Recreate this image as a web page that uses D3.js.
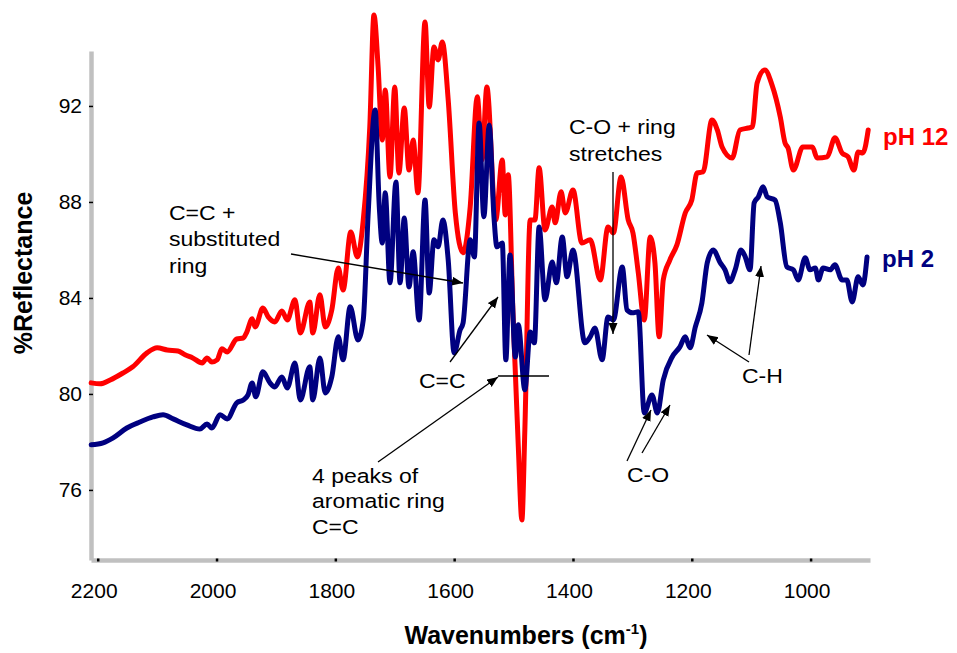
<!DOCTYPE html>
<html>
<head>
<meta charset="utf-8">
<script src="https://cdn.jsdelivr.net/npm/d3@7"></script>
<style>
  body { margin: 0; background: #fff; }
  text { font-family: "Liberation Sans", Arial, sans-serif; }
</style>
</head>
<body>
<script>
// pH 12 spectrum
var ph12Wave = [2211, 2196, 2179, 2157, 2141, 2117, 2100, 2083, 2065, 2053, 2040, 2024, 2016, 2008, 1999, 1991, 1982, 1966, 1955, 1949,
  1940, 1935, 1922, 1913, 1902, 1890, 1881, 1868, 1859, 1843, 1838, 1826, 1817, 1806, 1795, 1787, 1774, 1763, 1753, 1742,
  1735, 1728, 1721, 1716, 1708, 1700, 1693, 1684, 1676, 1669, 1661, 1649, 1642, 1634, 1627, 1620, 1610, 1598, 1585, 1573,
  1561, 1553, 1545, 1530, 1519, 1514, 1509, 1501, 1492, 1486, 1481, 1472, 1464, 1457, 1447, 1435, 1430, 1420, 1413, 1400,
  1385, 1371, 1354, 1341, 1332, 1319, 1307, 1299, 1290, 1280, 1270, 1262, 1255, 1248, 1237, 1225, 1211, 1200, 1191, 1181,
  1166, 1157, 1149, 1132, 1119, 1105, 1098, 1090, 1077, 1065, 1051, 1043, 1038, 1029, 1013, 997, 989, 972, 959, 947,
  937, 927, 920, 912, 903];
var ph12Refl = [80.46, 80.42, 80.58, 80.88, 81.13, 81.71, 81.92, 81.83, 81.79, 81.63, 81.50, 81.29, 81.50, 81.33, 81.42, 81.88, 81.75, 82.29, 82.33, 82.58,
  83.13, 82.79, 83.58, 83.21, 83.00, 83.46, 83.08, 83.92, 82.54, 83.83, 82.54, 84.13, 82.79, 83.50, 85.25, 84.33, 86.75, 85.71, 87.25, 91.13,
  95.79, 93.63, 90.58, 92.67, 89.04, 92.79, 89.21, 91.92, 89.33, 90.58, 88.38, 95.50, 91.96, 94.46, 93.92, 94.67, 92.25, 87.54, 85.88, 87.79,
  92.38, 89.75, 92.79, 87.25, 89.75, 87.46, 89.13, 83.38, 77.79, 74.75, 78.50, 87.25, 87.25, 89.42, 86.83, 87.79, 87.13, 88.42, 87.54, 88.50,
  86.29, 86.42, 84.75, 86.96, 86.71, 89.04, 87.25, 86.71, 85.04, 83.08, 86.54, 85.46, 82.38, 84.75, 85.58, 86.21, 87.54, 88.08, 89.21, 89.25,
  91.42, 91.00, 90.29, 89.83, 91.00, 91.08, 91.13, 92.96, 93.50, 92.88, 91.54, 90.46, 90.25, 89.33, 90.29, 90.29, 89.83, 89.88, 90.67, 90.04,
  89.88, 89.33, 90.08, 90.04, 91.00];

// pH 2 spectrum
var ph2Wave = [2211, 2191, 2174, 2151, 2129, 2107, 2090, 2073, 2050, 2028, 2016, 2008, 1994, 1982, 1966, 1955, 1947, 1940, 1934, 1922,
  1910, 1902, 1890, 1881, 1868, 1859, 1843, 1838, 1826, 1817, 1806, 1795, 1787, 1775, 1762, 1753, 1745, 1733, 1726, 1721,
  1716, 1708, 1698, 1691, 1684, 1676, 1669, 1659, 1649, 1642, 1634, 1627, 1619, 1610, 1600, 1590, 1585, 1573, 1566, 1558,
  1550, 1541, 1533, 1528, 1519, 1513, 1506, 1497, 1492, 1481, 1472, 1465, 1457, 1447, 1435, 1428, 1418, 1410, 1400, 1380,
  1371, 1363, 1351, 1341, 1332, 1317, 1309, 1300, 1290, 1280, 1267, 1258, 1248, 1233, 1220, 1211, 1203, 1194, 1183, 1174,
  1164, 1152, 1144, 1136, 1127, 1117, 1110, 1102, 1095, 1088, 1080, 1073, 1060, 1051, 1040, 1029, 1021, 1009, 1001, 992,
  987, 979, 967, 959, 947, 939, 930, 920, 912, 905];
var ph2Refl = [77.88, 77.96, 78.17, 78.58, 78.83, 79.04, 79.13, 78.96, 78.71, 78.54, 78.75, 78.58, 79.13, 78.96, 79.63, 79.75, 79.96, 80.46, 79.88, 80.92,
  80.46, 80.29, 80.71, 80.25, 81.29, 79.75, 81.13, 79.75, 81.50, 80.04, 80.71, 82.38, 81.42, 83.63, 82.25, 83.08, 87.38, 91.83, 87.79, 86.29,
  88.38, 84.63, 88.83, 84.63, 87.33, 84.46, 85.92, 83.08, 88.08, 84.21, 86.42, 86.13, 87.25, 85.58, 81.71, 82.67, 82.96, 86.42, 85.71, 91.29,
  87.38, 91.21, 87.38, 86.13, 86.29, 81.42, 85.79, 81.54, 82.88, 80.17, 82.58, 82.13, 86.96, 83.92, 85.50, 84.63, 86.54, 84.88, 86.00, 82.13,
  82.38, 82.75, 81.42, 83.21, 83.08, 85.29, 83.50, 83.38, 83.42, 79.21, 79.96, 79.21, 80.58, 81.54, 81.96, 82.38, 81.92, 82.79, 83.79, 85.46,
  86.00, 85.46, 85.17, 84.67, 85.17, 86.00, 85.71, 85.17, 87.96, 88.21, 88.63, 88.21, 88.08, 87.13, 85.29, 85.17, 84.75, 85.67, 85.17, 85.25,
  84.75, 85.25, 85.17, 85.38, 84.75, 84.75, 83.83, 84.88, 84.54, 85.71];

var xTicks = [2200, 2000, 1800, 1600, 1400, 1200, 1000];
var yTicks = [76, 80, 84, 88, 92];

var w = 957, h = 653;
var svg = d3.select("body").append("svg").attr("width", w).attr("height", h);

var x = d3.scaleLinear().domain([2211.3, 900]).range([91, 870]);
var y = d3.scaleLinear().domain([73.08, 94.29]).range([560, 51]);

// axes
var yAxis = svg.append("g").attr("transform", "translate(91,0)")
  .call(d3.axisLeft(y).tickValues(yTicks).tickFormat(d3.format("d"))
    .tickSizeInner(0).tickSizeOuter(0).tickPadding(9));
var xAxis = svg.append("g").attr("transform", "translate(0,560)")
  .call(d3.axisBottom(x).tickValues(xTicks).tickFormat(d3.format("d"))
    .tickSizeInner(0).tickSizeOuter(0).tickPadding(23));

[yAxis, xAxis].forEach(function(g){
  g.select(".domain").attr("stroke", "#c0c0c0").attr("stroke-width", 4.5);
  g.selectAll("text").attr("fill", "#000").style("font-size", "21px")
    .style("font-family", "'Liberation Sans', Arial, sans-serif");
});
yAxis.selectAll(".tick line").attr("x1", -2).attr("x2", 2).attr("stroke", "#000").attr("stroke-width", 1.5);
xAxis.selectAll(".tick line").attr("y1", -1.5).attr("y2", 1.5).attr("stroke", "#000").attr("stroke-width", 2.5);
xAxis.selectAll(".tick text").attr("x", -4);

// spectra
var line = d3.line()
  .x(function(d){ return x(d[0]); })
  .y(function(d){ return y(d[1]); })
  .curve(d3.curveMonotoneX);

svg.append("path").datum(d3.zip(ph12Wave, ph12Refl))
  .attr("d", line).attr("fill", "none").attr("stroke", "#ff0000")
  .attr("stroke-width", 5).attr("stroke-linejoin", "round").attr("stroke-linecap", "round");
svg.append("path").datum(d3.zip(ph2Wave, ph2Refl))
  .attr("d", line).attr("fill", "none").attr("stroke", "#000080")
  .attr("stroke-width", 5).attr("stroke-linejoin", "round").attr("stroke-linecap", "round");

// series labels
svg.append("text").attr("x", 883).attr("y", 145).text("pH 12")
  .attr("fill", "#ff0000").style("font-weight", "bold").style("font-size", "24px");
svg.append("text").attr("x", 882).attr("y", 267).text("pH 2")
  .attr("fill", "#000080").style("font-weight", "bold").style("font-size", "24px");

// axis titles
svg.append("text").attr("transform", "translate(32,273) rotate(-90)")
  .attr("text-anchor", "middle").style("font-weight", "bold").style("font-size", "25px")
  .text("%Reflectance");
var xt = svg.append("text").attr("x", 526).attr("y", 644).attr("text-anchor", "middle")
  .style("font-weight", "bold").style("font-size", "25px");
xt.append("tspan").text("Wavenumbers (cm");
xt.append("tspan").attr("dy", -10).style("font-size", "15px").text("-1");
xt.append("tspan").attr("dy", 10).text(")");

// annotations
svg.append("defs").append("marker").attr("id", "arr")
  .attr("markerUnits", "userSpaceOnUse").attr("markerWidth", 12).attr("markerHeight", 10)
  .attr("refX", 11).attr("refY", 4.5).attr("orient", "auto")
  .append("path").attr("d", "M0,0 L11,4.5 L0,9 Z").attr("fill", "#000");

function note(lines, x0, y0, lh) {
  var t = svg.append("text").attr("transform", "translate(" + x0 + "," + y0 + ") scale(1.18,1)")
    .style("font-size", "19.5px").attr("fill", "#000");
  lines.forEach(function(s, i){ t.append("tspan").attr("x", 0).attr("y", i * lh).text(s); });
}
function arrow(x1, y1, x2, y2, head) {
  var l = svg.append("line").attr("x1", x1).attr("y1", y1).attr("x2", x2).attr("y2", y2)
    .attr("stroke", "#000").attr("stroke-width", 1.3);
  if (head !== false) l.attr("marker-end", "url(#arr)");
}

note(["C=C +", "substituted", "ring"], 169, 220, 26.5);
arrow(291, 254, 463, 283);

note(["C=C"], 419, 388, 26);
arrow(450, 362, 498, 297);

note(["4 peaks of", "aromatic ring", "C=C"], 312, 483, 25.5);
arrow(378, 462, 498, 377);
arrow(498, 376, 549, 376, false);

note(["C-O + ring", "stretches"], 569, 134, 27);
arrow(613, 172, 613, 334);

note(["C-O"], 627, 482, 26);
arrow(627, 461, 651, 410);
arrow(642, 453, 670, 405);

note(["C-H"], 742, 383, 26);
arrow(749, 362, 707, 335);
arrow(749, 355, 761, 266);
</script>
</body>
</html>
